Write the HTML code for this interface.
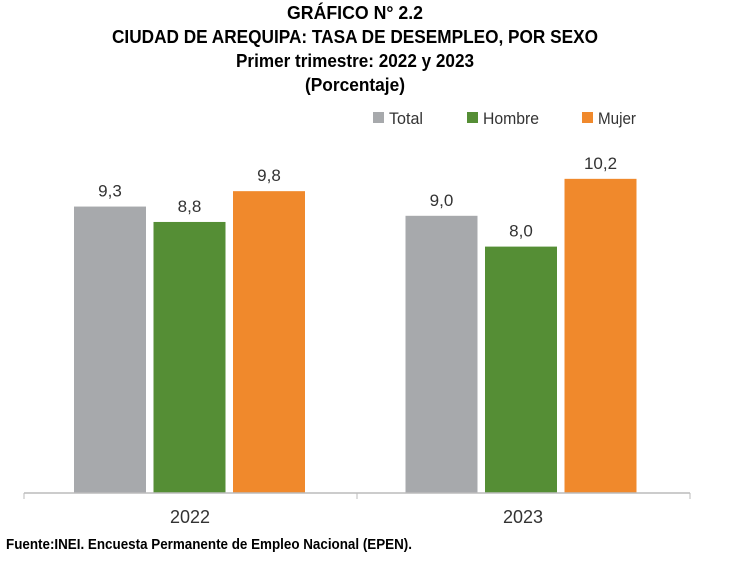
<!DOCTYPE html>
<html><head><meta charset="utf-8"><style>
body{margin:0;width:743px;height:564px;background:#fff;overflow:hidden;font-family:"Liberation Sans",sans-serif;}
</style></head><body>
<svg width="743" height="564" xmlns="http://www.w3.org/2000/svg">
<g font-weight="bold" font-size="18" fill="#000" text-anchor="middle" lengthAdjust="spacingAndGlyphs">
<text x="355" y="19" textLength="136" lengthAdjust="spacingAndGlyphs">GRÁFICO N° 2.2</text>
<text x="355" y="43" textLength="486" lengthAdjust="spacingAndGlyphs">CIUDAD DE AREQUIPA: TASA DE DESEMPLEO, POR SEXO</text>
<text x="355" y="67" textLength="238" lengthAdjust="spacingAndGlyphs">Primer trimestre: 2022 y 2023</text>
<text x="355" y="91" textLength="100" lengthAdjust="spacingAndGlyphs">(Porcentaje)</text>
</g>
<g id="legend" font-size="17" fill="#333"></g>
<g id="bars"></g>
<line x1="24" y1="493" x2="690" y2="493" stroke="#bbb" stroke-width="1.5"/>
<line x1="24" y1="493" x2="24" y2="499" stroke="#bbb"/>
<line x1="357" y1="493" x2="357" y2="499" stroke="#bbb"/>
<line x1="690" y1="493" x2="690" y2="499" stroke="#bbb"/>
<g id="xlabels" font-size="18" fill="#333" text-anchor="middle"></g>
<text x="6" y="549" font-size="15" font-weight="bold" fill="#000" textLength="406" lengthAdjust="spacingAndGlyphs">Fuente:INEI. Encuesta Permanente de Empleo Nacional (EPEN).</text>
</svg>
<script>
const categories=["2022","2023"];
const seriesNames=["Total","Hombre","Mujer"];
const total=[9.3,9.0];
const hombre=[8.8,8.0];
const mujer=[9.8,10.2];
const valueLabels=[["9,3","8,8","9,8"],["9,0","8,0","10,2"]];
const colors=["#a7a9ac","#558e35","#f0892c"];
const NS="http://www.w3.org/2000/svg";
const baseY=493, scale=30.8;
const y=v=>baseY-v*scale;
const groupX=i=>24+i*333;
const barW=72;
const barX=(i,s)=>groupX(i)+50+s*79.5-i*1.5;
const series=[total,hombre,mujer];
const bars=document.getElementById('bars');
categories.forEach((c,i)=>{
  series.forEach((arr,s)=>{
    const r=document.createElementNS(NS,'rect');
    r.setAttribute('x',barX(i,s));r.setAttribute('y',y(arr[i]));
    r.setAttribute('width',barW);r.setAttribute('height',baseY-y(arr[i]));
    r.setAttribute('fill',colors[s]);
    
    
    bars.appendChild(r);
    const t=document.createElementNS(NS,'text');
    t.setAttribute('x',barX(i,s)+barW/2);t.setAttribute('y',y(arr[i])-10);
    t.setAttribute('text-anchor','middle');t.setAttribute('font-size','17');t.setAttribute('fill','#333');
    t.textContent=valueLabels[i][s];
    
    
    bars.appendChild(t);
  });
  const l=document.createElementNS(NS,'text');
  l.setAttribute('x',groupX(i)+166);l.setAttribute('y',523);
  l.textContent=c;
  
  
  document.getElementById('xlabels').appendChild(l);
});
const lg=document.getElementById('legend');
const lgX=[373,467,582];
const lgW=[34,56,38];
seriesNames.forEach((n,s)=>{
  const g=document.createElementNS(NS,'g');
  
  
  const r=document.createElementNS(NS,'rect');
  r.setAttribute('x',lgX[s]);r.setAttribute('y',112);r.setAttribute('width',11);r.setAttribute('height',11);
  r.setAttribute('fill',colors[s]);
  g.appendChild(r);
  const t=document.createElementNS(NS,'text');
  t.setAttribute('x',lgX[s]+16);t.setAttribute('y',124);t.textContent=n;
  t.setAttribute('textLength',lgW[s]);t.setAttribute('lengthAdjust','spacingAndGlyphs');
  g.appendChild(t);
  lg.appendChild(g);
});
</script>
</body></html>
